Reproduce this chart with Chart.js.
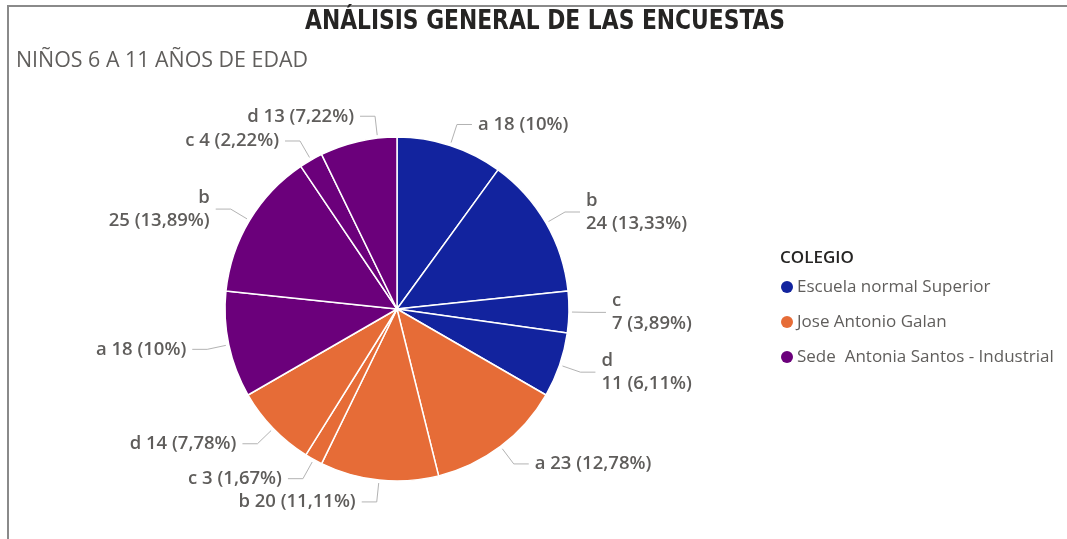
<!DOCTYPE html>
<html>
<head>
<meta charset="utf-8">
<script src="https://cdn.jsdelivr.net/npm/chart.js@4"></script>
<style>
  html, body { margin: 0; padding: 0; background: #ffffff; }
  #wrap { position: relative; width: 1067px; height: 539px; }
</style>
</head>
<body>
<div id="wrap"><canvas id="c" width="1067" height="539"></canvas></div>
<script>
// ---- data ----
const categories = ['a', 'b', 'c', 'd'];
const schools = ['Escuela normal Superior', 'Jose Antonio Galan', 'Sede  Antonia Santos - Industrial'];
const escuelaValues = [18, 24, 7, 11];
const galanValues = [23, 20, 3, 14];
const santosValues = [18, 25, 4, 13];
const schoolColors = ['#12239E', '#E66C37', '#6B007B'];
const titleText = 'ANÁLISIS GENERAL DE LAS ENCUESTAS';
const subtitleText = 'NIÑOS 6 A 11 AÑOS DE EDAD';
const legendTitle = 'COLEGIO';

const seriesValues = [escuelaValues, galanValues, santosValues];
const sliceLabels = [];
const sliceValues = [];
const sliceColors = [];
seriesValues.forEach((vals, s) => {
  vals.forEach((v, k) => {
    sliceLabels.push(categories[k]);
    sliceValues.push(v);
    sliceColors.push(schoolColors[s]);
  });
});

function fmtPct(v, total) {
  const p = Math.round(v / total * 10000) / 100;
  return String(p).replace('.', ',');
}

// frame, title, subtitle and legend
const headerPlugin = {
  id: 'header',
  beforeDraw(chart) {
    const ctx = chart.ctx;
    ctx.save();
    ctx.fillStyle = '#ffffff';
    ctx.fillRect(0, 0, chart.width, chart.height);
    ctx.strokeStyle = '#8a8a8a';
    ctx.lineWidth = 2;
    ctx.beginPath();
    ctx.moveTo(8, chart.height);
    ctx.lineTo(8, 6);
    ctx.lineTo(chart.width, 6);
    ctx.stroke();
    ctx.restore();
  },
  afterDraw(chart, args, o) {
    const ctx = chart.ctx;
    const area = chart.chartArea;
    ctx.save();
    ctx.textBaseline = 'middle';
    // title (fitted to its width)
    ctx.font = o.titleFont;
    ctx.fillStyle = '#252423';
    const tw = ctx.measureText(titleText).width;
    ctx.save();
    ctx.translate(o.titleX, o.titleY);
    ctx.scale(o.titleWidth / tw, 1);
    ctx.textAlign = 'center';
    ctx.fillText(titleText, 0, 0);
    ctx.restore();
    // subtitle
    ctx.font = o.subtitleFont;
    ctx.fillStyle = '#605E5C';
    ctx.textAlign = 'left';
    ctx.fillText(subtitleText, o.subtitleX, o.subtitleY);
    // legend
    const cy = (area.top + area.bottom) / 2;
    const lx = area.right + o.legendGap;
    ctx.font = o.legendTitleFont;
    ctx.fillStyle = '#252423';
    ctx.fillText(legendTitle, lx, cy + o.legendTitleDy);
    ctx.font = o.legendFont;
    schools.forEach((name, s) => {
      const iy = cy + o.legendFirstDy + s * o.legendStep;
      ctx.fillStyle = schoolColors[s];
      ctx.beginPath();
      ctx.arc(lx + o.dotR + 1, iy, o.dotR, 0, Math.PI * 2);
      ctx.fill();
      ctx.fillStyle = '#605E5C';
      ctx.fillText(name, lx + o.textDx, iy);
    });
    ctx.restore();
  }
};

const labelPlugin = {
  id: 'sliceLabels',
  afterDatasetsDraw(chart, args, opts) {
    const ctx = chart.ctx;
    const meta = chart.getDatasetMeta(0);
    const data = chart.data.datasets[0].data;
    const total = data.reduce((a, b) => a + b, 0);
    ctx.save();
    ctx.font = opts.font;
    ctx.textBaseline = 'middle';
    meta.data.forEach((arc, i) => {
      const p = arc.getProps(['x', 'y', 'startAngle', 'endAngle', 'outerRadius'], true);
      const f = opts.anchorFraction[i] !== undefined ? opts.anchorFraction[i] : 0.5;
      const a = p.startAngle + (p.endAngle - p.startAngle) * f;
      const cs = Math.cos(a), sn = Math.sin(a);
      const x0 = p.x + cs * (p.outerRadius + opts.startOffset);
      const y0 = p.y + sn * (p.outerRadius + opts.startOffset);
      const x1 = p.x + cs * (p.outerRadius + opts.elbow);
      const y1 = p.y + sn * (p.outerRadius + opts.elbow);
      const dir = opts.leftSide.includes(i) ? -1 : (opts.rightSide.includes(i) ? 1 : (cs >= 0 ? 1 : -1));
      const x2 = x1 + dir * opts.segment;
      ctx.strokeStyle = opts.lineColor;
      ctx.lineWidth = 1;
      ctx.beginPath();
      ctx.moveTo(x0, y0);
      ctx.lineTo(x1, y1);
      ctx.lineTo(x2, y1);
      ctx.stroke();
      const cat = chart.data.labels[i];
      const valTxt = data[i] + ' (' + fmtPct(data[i], total) + '%)';
      ctx.fillStyle = opts.color;
      ctx.textAlign = dir > 0 ? 'left' : 'right';
      const tx = x2 + dir * opts.gap;
      if (opts.twoLine.includes(i)) {
        ctx.fillText(cat, tx, y1 - opts.lineHeight / 2);
        ctx.fillText(valTxt, tx, y1 + opts.lineHeight / 2);
      } else {
        ctx.fillText(cat + ' ' + valTxt, tx, y1);
      }
    });
    ctx.restore();
  }
};

new Chart(document.getElementById('c'), {
  type: 'pie',
  data: {
    labels: sliceLabels,
    datasets: [{
      data: sliceValues,
      backgroundColor: sliceColors,
      borderColor: '#ffffff',
      borderWidth: 1.5,
      radius: 172
    }]
  },
  plugins: [headerPlugin, labelPlugin],
  options: {
    responsive: false,
    animation: false,
    devicePixelRatio: 1,
    layout: { padding: { left: 16, right: 289, top: 79, bottom: 0 } },
    plugins: {
      title: { display: false },
      legend: { display: false },
      tooltip: { enabled: false },
      header: {
        titleFont: "bold 26px 'DejaVu Sans Condensed', 'Liberation Sans Narrow', sans-serif",
        titleX: 545, titleY: 22, titleWidth: 480,
        subtitleFont: "21.4px 'Open Sans', sans-serif",
        subtitleX: 16, subtitleY: 61,
        legendGap: 2,
        legendTitleFont: "600 17px 'Open Sans', sans-serif",
        legendFont: "17px 'Open Sans', sans-serif",
        legendTitleDy: -51,
        legendFirstDy: -22,
        legendStep: 35,
        dotR: 6,
        textDx: 17
      },
      sliceLabels: {
        font: "600 18.5px 'Open Sans', sans-serif",
        color: '#5f5d5b',
        lineColor: '#b3b3b3',
        startOffset: 3,
        elbow: 22,
        segment: 15,
        gap: 6,
        lineHeight: 22.5,
        twoLine: [1, 2, 3, 9],
        anchorFraction: { 11: 0.75 },
        leftSide: [11],
        rightSide: []
      }
    }
  }
});
</script>
</body>
</html>
